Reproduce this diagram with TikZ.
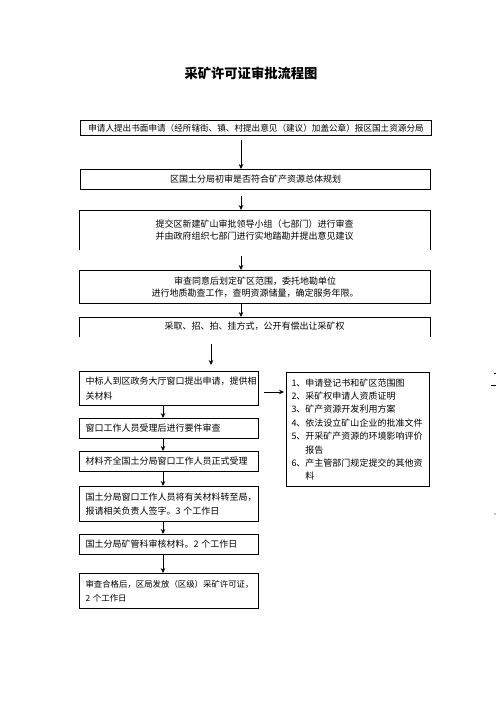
\documentclass[tikz,border=0pt]{standalone}
\usepackage{fontspec}
\setmainfont{Noto Sans CJK SC}
\usetikzlibrary{arrows.meta, positioning, calc}

\begin{document}
\begin{tikzpicture}[
  x=1bp, y=-1bp,
  font=\fontsize{9bp}{12bp}\selectfont,
  flow/.style={-{Stealth[length=5bp, width=4.5bp]}, line width=0.8bp},
  stagebox/.style={draw, line width=1bp, inner sep=0pt, anchor=north west, align=center},
  openbox/.style={inner sep=0pt, anchor=north west, align=center},
  stepbox/.style={draw, line width=1bp, inner xsep=6bp, inner ysep=0pt, anchor=north west, align=left},
  title/.style={font=\fontsize{13.3bp}{16bp}\selectfont\bfseries}
]

  \fill[white] (0,0) rectangle (496,702);
  \useasboundingbox (0,0) rectangle (496,702);

  \node[title] (head) at (251,73) {采矿许可证审批流程图};

  % upper column
  \node[stagebox, minimum width=351bp, minimum height=15bp, font=\fontsize{8.6bp}{12bp}\selectfont] (apply) at (80,120)
    {申请人提出书面申请（经所辖街、镇、村提出意见（建议）加盖公章）报区国土资源分局};
  \node[stagebox, minimum width=350bp, minimum height=20bp] (check) at (80,169)
    {区国土分局初审是否符合矿产资源总体规划};
  \node[openbox, minimum width=351bp, minimum height=40bp] (review) at (79,210)
    {提交区新建矿山审批领导小组（七部门）进行审查\\并由政府组织七部门进行实地踏勘并提出意见建议};
  \node[stagebox, minimum width=351bp, minimum height=33bp] (survey) at (79,270)
    {审查同意后划定矿区范围，委托地勘单位\\进行地质勘查工作，查明资源储量，确定服务年限。};
  \node[openbox, minimum width=351bp, minimum height=20bp, text depth=4bp] (transfer) at (79,317)
    {采取、招、拍、挂方式，公开有偿出让采矿权};

  \draw[line width=1bp] (review.south west) -- (review.north west) -- (review.north east) -- (review.south east);
  \draw[line width=1bp] (transfer.south west) -- (transfer.north west) -- (transfer.north east) -- (transfer.south east);

  % lower column
  \node[stepbox, text width=167bp, minimum height=34bp, font=\fontsize{9bp}{15bp}\selectfont] (bid) at (79,371)
    {中标人到区政务大厅窗口提出申请，提供相\\关材料};
  \node[stepbox, text width=167bp, minimum height=20bp] (window) at (79,418)
    {窗口工作人员受理后进行要件审查};
  \node[stepbox, text width=167bp, minimum height=20bp] (accept) at (79,451)
    {材料齐全国土分局窗口工作人员正式受理};
  \node[stepbox, text width=167bp, minimum height=35bp, font=\fontsize{9bp}{14bp}\selectfont] (forward) at (79,486)
    {国土分局窗口工作人员将有关材料转至局，\\报请相关负责人签字。3 个工作日};
  \node[stepbox, text width=167bp, minimum height=20bp] (audit) at (79,534)
    {国土分局矿管科审核材料。2 个工作日};
  \node[stepbox, text width=167bp, minimum height=35bp, font=\fontsize{8.4bp}{13.5bp}\selectfont] (issue) at (79,573)
    {审查合格后，区局发放（区级）采矿许可证，\\2 个工作日};

  \node[stepbox, inner xsep=5bp, text width=133bp, minimum height=114bp, font=\fontsize{9bp}{13.4bp}\selectfont] (docs) at (286,372)
    {1、申请登记书和矿区范围图\\
     2、采矿权申请人资质证明\\
     3、矿产资源开发利用方案\\
     4、依法设立矿山企业的批准文件\\
     5、开采矿产资源的环境影响评价\\
     \phantom{5、}报告\\
     6、产主管部门规定提交的其他资\\
     \phantom{6、}料};

  % connectors
  \coordinate (spineA) at (241,0);
  \coordinate (spineB) at (163,0);
  \coordinate (lot) at (211,0);
  \coordinate (toList) at (0,392);

  \draw[flow, shorten <=4bp] (apply.south -| spineA) -- (check.north -| spineA);
  \draw[flow, shorten <=6bp] (check.south -| spineA) -- (review.north -| spineA);
  \draw[flow, shorten <=6bp] (review.south -| spineA) -- (survey.north -| spineA);
  \draw[flow] (survey.south -| spineA) -- (transfer.north -| spineA);
  \draw[flow, shorten <=7bp, shorten >=6bp] (transfer.south -| lot) -- (bid.north -| lot);

  \foreach \a/\b in {bid/window, window/accept, accept/forward, forward/audit, audit/issue}
    \draw[flow] (\a.south -| spineB) -- (\b.north -| spineB);

  \draw[flow, shorten <=5bp, shorten >=2bp] (bid.east |- toList) -- (docs.west |- toList);

  % stray marks at the page edge
  \draw[line width=0.6bp] (494,373) -- (496,373);
  \draw[line width=0.8bp] (491,385) -- (496,385);
  \fill (495,514) circle (0.6);

\end{tikzpicture}
\end{document}
